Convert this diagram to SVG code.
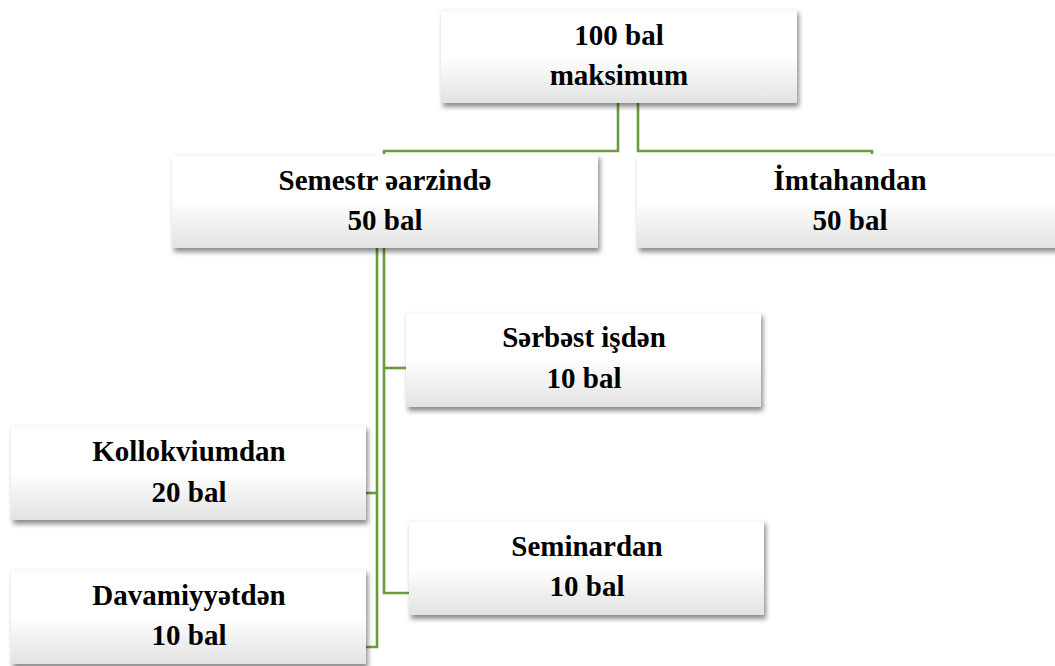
<svg xmlns="http://www.w3.org/2000/svg" width="1055" height="666" viewBox="0 0 1055 666">
<defs>
<linearGradient id="g" x1="0" y1="0" x2="0" y2="1">
<stop offset="0" stop-color="#f6f6f6"/>
<stop offset="0.04" stop-color="#ffffff"/>
<stop offset="0.5" stop-color="#ffffff"/>
<stop offset="1" stop-color="#e2e2e2"/>
</linearGradient>
<filter id="sh" x="-10%" y="-20%" width="120%" height="150%">
<feDropShadow dx="2" dy="4" stdDeviation="2.5" flood-color="#000" flood-opacity="0.45"/>
</filter>
</defs>
<style>
.box{fill:url(#g);filter:url(#sh)}
text{font-family:"Liberation Serif",Tinos,"DejaVu Serif",serif;font-weight:bold;font-size:29px;fill:#000;text-anchor:middle}
.c{fill:none;stroke:#6b9a3c;stroke-width:2.6}
</style>
<rect width="1055" height="666" fill="#fff"/>
<g id="connectors">
<polyline class="c" points="618,103 618,151 384,151 384,593 409,593"/>
<line class="c" x1="384" y1="368" x2="406" y2="368"/>
<polyline class="c" points="638,103 638,151 872,151 872,156"/>
<polyline class="c" points="377,240 377,647 366,647"/>
<line class="c" x1="366" y1="493" x2="377" y2="493"/>
</g>
<g id="top">
<rect class="box" x="441" y="9" width="356" height="94"/>
<text x="619" y="45">100 bal</text>
<text x="619" y="85">maksimum</text>
</g>
<g id="semestr">
<rect class="box" x="172" y="154" width="426" height="94"/>
<text x="385" y="190">Semestr əarzində</text>
<text x="385" y="230">50 bal</text>
</g>
<g id="imtahan">
<rect class="box" x="637" y="154" width="427" height="94"/>
<text x="850" y="190">İmtahandan</text>
<text x="850" y="230">50 bal</text>
</g>
<g id="serbest">
<rect class="box" x="406" y="312" width="355" height="95"/>
<text x="584" y="347">Sərbəst işdən</text>
<text x="584" y="388">10 bal</text>
</g>
<g id="kollokvium">
<rect class="box" x="11" y="425" width="355" height="95"/>
<text x="189" y="461">Kollokviumdan</text>
<text x="189" y="502">20 bal</text>
</g>
<g id="seminar">
<rect class="box" x="409" y="520" width="355" height="95"/>
<text x="587" y="556">Seminardan</text>
<text x="587" y="596">10 bal</text>
</g>
<g id="davamiyyet">
<rect class="box" x="11" y="569" width="355" height="95"/>
<text x="189" y="605">Davamiyyətdən</text>
<text x="189" y="645">10 bal</text>
</g>
</svg>
